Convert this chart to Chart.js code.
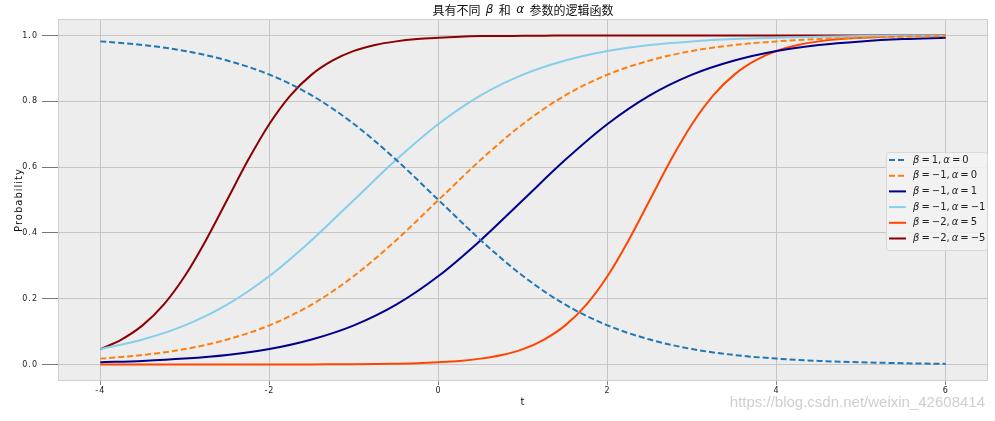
<!DOCTYPE html>
<html>
<head>
<meta charset="utf-8">
<script src="https://cdn.jsdelivr.net/npm/chart.js@4"></script>
<style>
  html, body { margin: 0; padding: 0; background: #fff; }
  #wrap { width: 995px; height: 421px; }
</style>
</head>
<body>
<div id="wrap"><canvas id="chart" width="995" height="421"></canvas></div>
<script>
// --- data ---
const tCoarse = [-4, -3.5, -3, -2.5, -2, -1.5, -1, -0.5, 0, 0.5, 1, 1.5, 2, 2.5, 3, 3.5, 4, 4.5, 5, 5.5, 6];
const tFine = [-4, -3.75, -3.5, -3.25, -3, -2.75, -2.5, -2.25, -2, -1.75, -1.5, -1.25, -1, -0.75, -0.5, -0.25,
               0, 0.25, 0.5, 0.75, 1, 1.25, 1.5, 1.75, 2, 2.25, 2.5, 2.75, 3, 3.25, 3.5, 3.75, 4, 4.25, 4.5, 4.75,
               5, 5.25, 5.5, 5.75, 6];

const b1a0   = [0.982, 0.971, 0.953, 0.924, 0.881, 0.818, 0.731, 0.622, 0.5, 0.378, 0.269, 0.182, 0.119, 0.076, 0.047, 0.029, 0.018, 0.011, 0.007, 0.004, 0.002];
const bm1a0  = [0.018, 0.029, 0.047, 0.076, 0.119, 0.182, 0.269, 0.378, 0.5, 0.622, 0.731, 0.818, 0.881, 0.924, 0.953, 0.971, 0.982, 0.989, 0.993, 0.996, 0.998];
const bm1a1  = [0.007, 0.011, 0.018, 0.029, 0.047, 0.076, 0.119, 0.182, 0.269, 0.378, 0.5, 0.622, 0.731, 0.818, 0.881, 0.924, 0.953, 0.971, 0.982, 0.989, 0.993];
const bm1am1 = [0.047, 0.076, 0.119, 0.182, 0.269, 0.378, 0.5, 0.622, 0.731, 0.818, 0.881, 0.924, 0.953, 0.971, 0.982, 0.989, 0.993, 0.996, 0.998, 0.999, 0.999];
// the two steep curves are read on the finer grid
const bm2a5  = [0, 0, 0, 0, 0, 0, 0, 0, 0.0001, 0.0002, 0.0003, 0.0006, 0.0009, 0.0015, 0.0025, 0.004,
                0.007, 0.011, 0.018, 0.029, 0.047, 0.076, 0.119, 0.182, 0.269, 0.378, 0.5, 0.622, 0.731, 0.818,
                0.881, 0.924, 0.953, 0.971, 0.982, 0.989, 0.993, 0.996, 0.998, 0.998, 0.999];
const bm2am5 = [0.047, 0.076, 0.119, 0.182, 0.269, 0.378, 0.5, 0.622, 0.731, 0.818, 0.881, 0.924, 0.953, 0.971, 0.982, 0.989,
                0.993, 0.996, 0.998, 0.998, 0.999, 0.999, 1, 1, 1, 1, 1, 1, 1, 1,
                1, 1, 1, 1, 1, 1, 1, 1, 1, 1, 1];

const seriesLabels = ['β = 1, α = 0', 'β = −1, α = 0', 'β = −1, α = 1', 'β = −1, α = −1', 'β = −2, α = 5', 'β = −2, α = −5'];
const seriesColors = ['#1f77b4', '#ff7f0e', '#00008b', '#87ceeb', '#ff4500', '#8b0000'];
const seriesDashed = [true, true, false, false, false, false];
const seriesValues = [b1a0, bm1a0, bm1a1, bm1am1, bm2a5, bm2am5];
const seriesT = [tCoarse, tCoarse, tCoarse, tCoarse, tFine, tFine];

const xTicks = [-4, -2, 0, 2, 4, 6];
const xTickLabels = ['-4', '-2', '0', '2', '4', '6'];
const yTicks = [0, 0.2, 0.4, 0.6, 0.8, 1.0];
const yTickLabels = ['0.0', '0.2', '0.4', '0.6', '0.8', '1.0'];

const chartTitle = '具有不同  β  和  α  参数的逻辑函数';
const watermark = 'https://blog.csdn.net/weixin_42608414';

// text with italic greek letters, like matplotlib mathtext
function mathParts(text) {
  return text.split(/([αβ])/).filter(s => s.length);
}
function setPartFont(ctx, p, size, family) {
  const greek = /[αβ]/.test(p);
  ctx.font = (greek ? 'italic ' : '') + size + 'px ' + (greek ? '"DejaVu Sans"' : family);
}
function measureMath(ctx, text, size, family) {
  let w = 0;
  mathParts(text).forEach(p => {
    setPartFont(ctx, p, size, family);
    w += ctx.measureText(p).width;
  });
  return w;
}
function drawMath(ctx, text, x, y, size, family) {
  let cx = x;
  mathParts(text).forEach(p => {
    setPartFont(ctx, p, size, family);
    ctx.fillText(p, cx, y);
    cx += ctx.measureText(p).width;
  });
}

const decorPlugin = {
  id: 'decor',
  beforeDraw(chart) {
    const { ctx, chartArea: a } = chart;
    ctx.save();
    ctx.fillStyle = '#ffffff';
    ctx.fillRect(0, 0, chart.width, chart.height);
    ctx.fillStyle = '#ededed';
    ctx.fillRect(a.left, a.top, a.right - a.left, a.bottom - a.top);
    ctx.restore();
    ctx.letterSpacing = '1px';
  },
  beforeDatasetsDraw(chart) {
    const { ctx, chartArea: a } = chart;
    ctx.letterSpacing = '0px';
    ctx.save();
    ctx.strokeStyle = '#cfcfcf';
    ctx.lineWidth = 1;
    ctx.strokeRect(a.left + 0.5, a.top + 0.5, a.right - a.left - 1, a.bottom - a.top - 1);
    ctx.restore();
  },
  afterDraw(chart) {
    const { ctx, chartArea: a } = chart;
    ctx.save();
    ctx.letterSpacing = '0px';
    ctx.textBaseline = 'middle';
    ctx.fillStyle = '#111';

    // title
    const fam = '"Noto Sans CJK SC", "DejaVu Sans", sans-serif';
    const tw = measureMath(ctx, chartTitle, 12, fam);
    drawMath(ctx, chartTitle, (a.left + a.right) / 2 - tw / 2, 10, 12, fam);

    // legend box
    const lx = 886, ly = 152, lw = 101, lh = 98;
    ctx.fillStyle = 'rgba(242,242,242,0.85)';
    ctx.strokeStyle = '#d8d8d8';
    ctx.lineWidth = 1;
    ctx.beginPath();
    ctx.roundRect(lx + 0.5, ly + 0.5, lw, lh, 3);
    ctx.fill();
    ctx.stroke();

    chart.data.datasets.forEach((ds, i) => {
      const y = 160 + i * 15.7;
      ctx.strokeStyle = ds.borderColor;
      ctx.lineWidth = 2;
      ctx.setLineDash(ds.borderDash || []);
      ctx.beginPath();
      ctx.moveTo(889, y);
      ctx.lineTo(906, y);
      ctx.stroke();
      ctx.setLineDash([]);
      ctx.fillStyle = '#222';
      const txt = ds.label.replace(/ = /g, '\u2009=\u2009').replace(/, /g, ',\u2009');
      drawMath(ctx, txt, 913, y, 10, '"DejaVu Sans", sans-serif');
    });

    // watermark
    ctx.font = '15px "Liberation Sans", Arial, sans-serif';
    ctx.fillStyle = 'rgba(190,190,190,0.75)';
    ctx.textAlign = 'right';
    ctx.fillText(watermark, 985, 403);
    ctx.restore();
  }
};

const datasets = seriesValues.map((vals, i) => ({
  label: seriesLabels[i],
  data: seriesT[i].map((t, j) => ({ x: t, y: vals[j] })),
  borderColor: seriesColors[i],
  borderWidth: 2,
  borderDash: seriesDashed[i] ? [6, 3] : undefined,
  pointRadius: 0,
  fill: false,
  cubicInterpolationMode: 'monotone'
}));

const tickFont = { family: '"DejaVu Sans", sans-serif', size: 8 };

new Chart(document.getElementById('chart').getContext('2d'), {
  type: 'line',
  data: { datasets },
  plugins: [decorPlugin],
  options: {
    responsive: false,
    devicePixelRatio: 1,
    animation: false,
    layout: { padding: { top: 19, right: 7, left: 0, bottom: 0 } },
    plugins: {
      legend: { display: false },
      title: { display: false },
      tooltip: { enabled: false }
    },
    scales: {
      x: {
        type: 'linear',
        min: -4.5,
        max: 6.5,
        afterBuildTicks: s => { s.ticks = xTicks.map(v => ({ value: v })); },
        afterFit: s => { s.height = 40; },
        ticks: {
          color: '#222',
          font: tickFont,
          padding: 1,
          maxRotation: 0,
          callback: v => xTickLabels[xTicks.indexOf(v)]
        },
        grid: { color: '#c6c6c6', lineWidth: 1, tickLength: 4, tickColor: '#888' },
        border: { display: false },
        title: { display: true, text: 't', color: '#111', font: { family: '"DejaVu Sans", sans-serif', size: 10 }, padding: { top: 2, bottom: 13 } }
      },
      y: {
        min: -0.05,
        max: 1.05,
        afterBuildTicks: s => { s.ticks = yTicks.map(v => ({ value: v })); },
        afterFit: s => { s.width = 58; },
        ticks: {
          color: '#222',
          font: tickFont,
          padding: 4,
          callback: v => yTickLabels[yTicks.findIndex(t => Math.abs(t - v) < 1e-9)]
        },
        grid: { color: '#c6c6c6', lineWidth: 1, tickLength: 16, tickColor: '#777' },
        border: { display: false },
        title: { display: true, text: 'Probability', color: '#111', font: { family: '"DejaVu Sans", sans-serif', size: 10 }, padding: { top: 13, bottom: 0 } }
      }
    }
  }
});
</script>
</body>
</html>
